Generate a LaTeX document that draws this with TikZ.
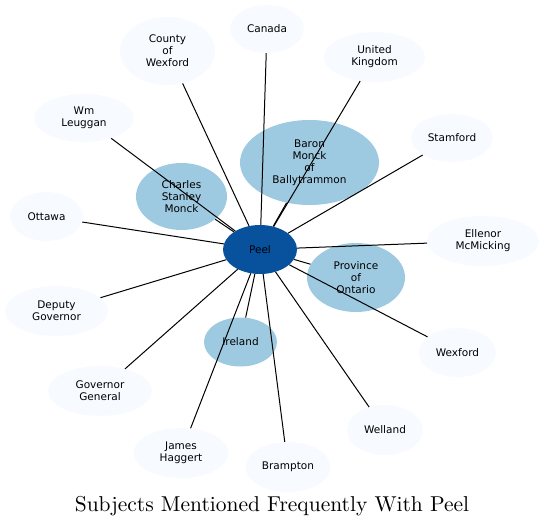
\documentclass[tikz,border=0pt]{standalone}
\usepackage{fontspec}
\newfontfamily\subjfont{DejaVu Sans}
\newfontfamily\titlefont{lmroman10-regular.otf}
\usepackage{tikz}
\usetikzlibrary{shapes.geometric}
\definecolor{bluelight}{HTML}{F7FBFF}
\definecolor{bluemid}{HTML}{9ECAE1}
\definecolor{bluedark}{HTML}{08519C}
\tikzset{
  subjnode/.style={
    ellipse, fill=bluelight, inner sep=0pt, align=center,
    font=\subjfont\fontsize{10.5}{12}\selectfont
  },
  subjmid/.style={subjnode, fill=bluemid},
  hubnode/.style={subjnode, fill=bluedark},
  subjedge/.style={line width=1pt, black},
  titlelabel/.style={font=\titlefont\fontsize{21.5}{26}\selectfont},
}
\begin{document}
\begin{tikzpicture}[x=1pt, y=-1pt]
  \useasboundingbox (0,0) rectangle (544,527);

  % Central: Peel
  \node[hubnode, minimum width=74, minimum height=49] (peel) at (260,249.5) {Peel};

  % Frequent subjects (mid tone)
  \node[subjmid, minimum width=139, minimum height=85] (baron) at (309.5,162.5)
    {Baron\\Monck\\of\\Ballytrammon};
  \node[subjmid, minimum width=91, minimum height=67] (charles) at (181.5,196.5)
    {Charles\\Stanley\\Monck};
  \node[subjmid, minimum width=98, minimum height=69] (ontario) at (356,277.5)
    {Province\\of\\Ontario};
  \node[subjmid, minimum width=73, minimum height=49] (ireland) at (240.5,342) {Ireland};

  % Other subjects (light)
  \node[subjnode, minimum width=74, minimum height=48] (canada) at (267,29) {Canada};
  \node[subjnode, minimum width=95, minimum height=68] (county) at (167.5,51)
    {County\\of\\Wexford};
  \node[subjnode, minimum width=101, minimum height=50] (uk) at (374.5,57) {United\\Kingdom};
  \node[subjnode, minimum width=100, minimum height=48] (leuggan) at (84,118) {Wm\\Leuggan};
  \node[subjnode, minimum width=82, minimum height=48] (stamford) at (452,138) {Stamford};
  \node[subjnode, minimum width=73, minimum height=49] (ottawa) at (46.5,216.5) {Ottawa};
  \node[subjnode, minimum width=112, minimum height=50] (ellenor) at (483,241)
    {Ellenor\\McMicking};
  \node[subjnode, minimum width=103, minimum height=50] (deputy) at (56.5,311)
    {Deputy\\Governor};
  \node[subjnode, minimum width=77, minimum height=49] (wexford) at (457.5,352.5) {Wexford};
  \node[subjnode, minimum width=104, minimum height=50] (govgen) at (100,391)
    {Governor\\General};
  \node[subjnode, minimum width=76, minimum height=50] (welland) at (385,430) {Welland};
  \node[subjnode, minimum width=95, minimum height=50] (haggert) at (181,453)
    {James\\Haggert};
  \node[subjnode, minimum width=85, minimum height=50] (brampton) at (288,467) {Brampton};

  % Edges from Peel
  \foreach \subj in {baron, charles, ontario, ireland, canada, county, uk, leuggan,
    stamford, ottawa, ellenor, deputy, wexford, govgen, welland, haggert, brampton}
    \draw[subjedge] (peel) -- (\subj);

  % Title
  \node[titlelabel] (title) at (272,506) {Subjects Mentioned Frequently With Peel};
\end{tikzpicture}
\end{document}
